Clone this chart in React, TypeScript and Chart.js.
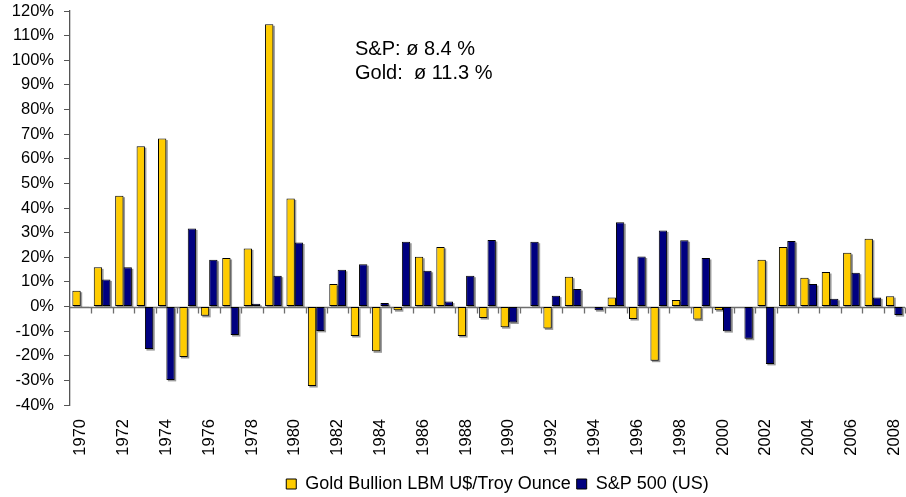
import React, { useEffect, useRef } from "react";
import { Chart, registerables } from "chart.js";

Chart.register(...registerables);

const years = [
  "1970", "1971", "1972", "1973", "1974", "1975", "1976", "1977", "1978", "1979",
  "1980", "1981", "1982", "1983", "1984", "1985", "1986", "1987", "1988", "1989",
  "1990", "1991", "1992", "1993", "1994", "1995", "1996", "1997", "1998", "1999",
  "2000", "2001", "2002", "2003", "2004", "2005", "2006", "2007", "2008",
];

const goldReturns = [
  6.4, 15.9, 45.0, 65.1, 68.2, -20.5, -3.8, 19.7, 23.6, 114.6,
  43.9, -32.3, 9.1, -12.0, -18.2, -1.5, 20.2, 24.2, -12.0, -4.7,
  -8.4, 0, -8.9, 12.1, 0, 3.7, -5.1, -22.0, 2.6, -5.3,
  -1.5, 0, 19.0, 24.2, 11.7, 14.0, 21.8, 27.5, 4.2,
];

const spReturns = [
  0.1, 11.0, 15.9, -17.3, -29.8, 31.7, 19.0, -11.6, 1.1, 12.5,
  26.0, -9.9, 14.9, 17.2, 1.4, 26.3, 14.5, 2.0, 12.5, 27.0,
  -6.5, 26.3, 4.4, 7.1, -1.5, 34.2, 20.3, 30.9, 26.9, 19.7,
  -10.0, -13.1, -23.3, 26.6, 9.1, 3.1, 13.7, 3.7, -3.5,
];

const seriesNames = ["Gold Bullion LBM U$/Troy Ounce", "S&P 500 (US)"];
const annotationLines = ["S&P: \u00f8 8.4 %", "Gold:  \u00f8 11.3 %"];

const FONT = "'Liberation Sans', Arial, Helvetica, sans-serif";

const shadowPlugin = {
  id: "barShadow",
  afterLayout(chart: any) {
    if (chart.legend) {
      chart.legend.left += 45;
      chart.legend.right += 45;
    }
  },
  beforeDatasetsDraw(chart: any) {
    const ctx = chart.ctx;
    const yScale = chart.scales.y;
    const xScale = chart.scales.x;
    const area = chart.chartArea;
    ctx.save();
    ctx.fillStyle = "rgba(120,120,120,0.75)";
    chart.data.datasets.forEach((_: any, di: number) => {
      const meta = chart.getDatasetMeta(di);
      meta.data.forEach((el: any) => {
        const left = el.x - el.width / 2;
        const top = Math.min(el.y, el.base);
        const h = Math.abs(el.base - el.y);
        if (h < 0.5) return;
        ctx.fillRect(left + 1.5, top + 1.5, el.width, h);
      });
    });
    const y0 = Math.round(yScale.getPixelForValue(0)) + 0.5;
    ctx.strokeStyle = "#6e6e6e";
    ctx.lineWidth = 1.3;
    ctx.beginPath();
    ctx.moveTo(area.left, y0);
    ctx.lineTo(area.right, y0);
    ctx.stroke();
    const n = chart.data.labels.length;
    ctx.beginPath();
    for (let i = 1; i <= n; i++) {
      const a = xScale.getPixelForValue(i - 1);
      const b = i < n ? xScale.getPixelForValue(i) : a + (a - xScale.getPixelForValue(i - 2));
      const xb = Math.round((a + b) / 2) + 0.5;
      ctx.moveTo(xb, y0);
      ctx.lineTo(xb, y0 + 6);
    }
    ctx.stroke();
    ctx.restore();
  },
  afterDraw(chart: any) {
    const ctx = chart.ctx;
    ctx.save();
    ctx.fillStyle = "#000";
    ctx.font = `20px ${FONT}`;
    ctx.textBaseline = "alphabetic";
    ctx.textAlign = "left";
    ctx.fillText(annotationLines[0], 355, 55);
    ctx.fillText(annotationLines[1], 355, 79);
    ctx.restore();
  },
};

export default function App() {
  const ref = useRef<HTMLCanvasElement | null>(null);

  useEffect(() => {
    if (!ref.current) return;
    const chart = new Chart(ref.current, {
      type: "bar",
      data: {
        labels: years,
        datasets: [
          {
            label: seriesNames[0],
            data: goldReturns,
            backgroundColor: "#FFCC00",
            borderColor: "#000000",
            borderWidth: 1,
            borderSkipped: false,
            categoryPercentage: 0.78,
            barPercentage: 1.0,
          },
          {
            label: seriesNames[1],
            data: spReturns,
            backgroundColor: "#000080",
            borderColor: "#000000",
            borderWidth: 1,
            borderSkipped: false,
            categoryPercentage: 0.78,
            barPercentage: 1.0,
          },
        ],
      },
      options: {
        responsive: true,
        maintainAspectRatio: false,
        animation: false,
        layout: { padding: { top: 11, left: 0, right: 1, bottom: -6 } },
        plugins: {
          tooltip: { enabled: false },
          legend: {
            display: true,
            position: "bottom",
            labels: {
              color: "#000",
              font: { family: FONT, size: 18 },
              boxWidth: 10,
              boxHeight: 10,
              padding: 6,
              generateLabels: (c: any) =>
                c.data.datasets.map((ds: any, i: number) => ({
                  text: ds.label,
                  fillStyle: ds.backgroundColor,
                  strokeStyle: "#000",
                  lineWidth: 1,
                  datasetIndex: i,
                  hidden: false,
                  fontColor: "#000",
                })),
            },
          },
        },
        scales: {
          x: {
            offset: true,
            grid: { display: false, drawTicks: false },
            border: { display: false },
            ticks: {
              autoSkip: false,
              maxRotation: 90,
              minRotation: 90,
              padding: 14,
              color: "#000",
              font: { family: FONT, size: 16.5 },
              callback: (_v: any, i: number) => (i % 2 === 0 ? years[i] : ""),
            },
            afterFit: (s: any) => {
              s.height = 64;
              s.paddingLeft = 0;
              s.paddingRight = 0;
            },
          },
          y: {
            min: -40,
            max: 120,
            grid: {
              display: true,
              drawOnChartArea: false,
              drawTicks: true,
              tickLength: 6,
              color: "#555",
            },
            border: { display: true, color: "#555", width: 1.3 },
            ticks: {
              stepSize: 10,
              padding: 10,
              color: "#000",
              font: { family: FONT, size: 16.5 },
              callback: (v: any) => `${v}%`,
            },
            afterFit: (s: any) => {
              s.width = 70;
              s.paddingTop = 0;
              s.paddingBottom = 0;
            },
          },
        },
      },
      plugins: [shadowPlugin],
    });
    return () => chart.destroy();
  }, []);

  return (
    <div style={{ position: "absolute", left: 0, top: 0, width: 906, height: 497, background: "#fff" }}>
      <canvas ref={ref} />
    </div>
  );
}
